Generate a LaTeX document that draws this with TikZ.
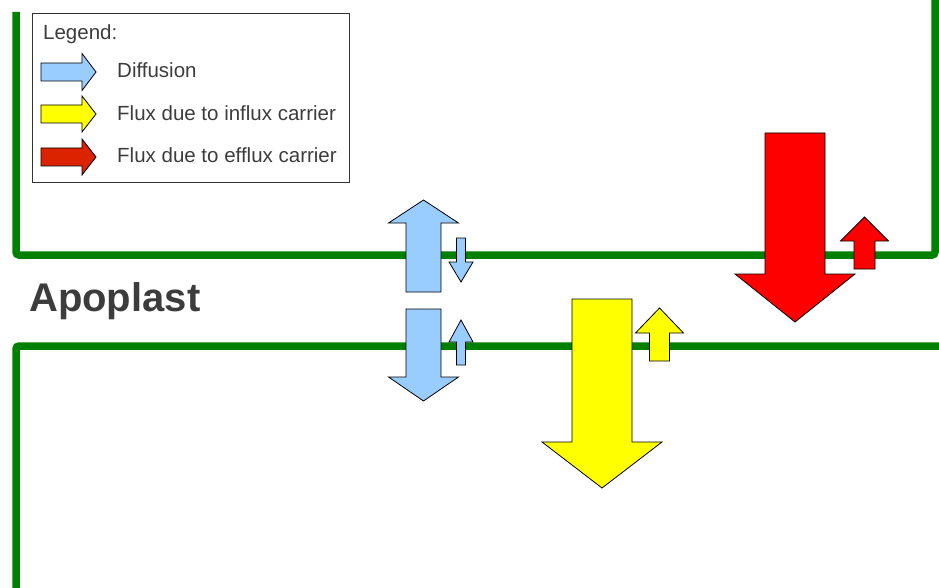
\documentclass[tikz,border=0pt]{standalone}
\usepackage{fontspec}
\setmainfont{Liberation Sans}
\definecolor{cellgreen}{HTML}{008000}
\definecolor{diffblue}{HTML}{99CCFF}
\definecolor{influxyellow}{HTML}{FFFF00}
\definecolor{effluxred}{HTML}{FF0000}
\definecolor{legendred}{HTML}{DC2300}
\definecolor{textgray}{HTML}{3C3C3C}
% vertical block arrow: color, centre x, shaft half width, head half width, tip y, head base y, tail y
\newcommand\vblockarrow[7]{%
  \filldraw[arrowshape,fill=#1] (#2-#3,#7) -- (#2-#3,#6) -- (#2-#4,#6) -- (#2,#5) -- (#2+#4,#6) -- (#2+#3,#6) -- (#2+#3,#7) -- cycle;}
% horizontal block arrow: color, centre y, shaft half, head half, tip x, head base x, tail x
\newcommand\hblockarrow[7]{%
  \filldraw[arrowshape,fill=#1] (#7,#2-#3) -- (#6,#2-#3) -- (#6,#2-#4) -- (#5,#2) -- (#6,#2+#4) -- (#6,#2+#3) -- (#7,#2+#3) -- cycle;}
\begin{document}
\begin{tikzpicture}[x=1pt,y=-1pt,
  cellwall/.style={draw=cellgreen,line width=7.5pt,rounded corners=3pt},
  arrowshape/.style={draw=black,line width=0.8pt,line join=miter},
  legendtext/.style={anchor=base west,inner sep=0pt,text=textgray,font=\fontsize{20.5}{24}\selectfont},
  titletext/.style={anchor=base west,inner sep=0pt,text=textgray,font=\fontsize{40}{46}\selectfont\bfseries}]
\useasboundingbox (0,0) rectangle (939,588);
% cell walls
\draw[cellwall] (16,12) -- (16,255) -- (935,255) -- (935,-10);
\draw[cellwall] (950,346) -- (16,346) -- (16,600);
% legend
\node[draw=black!80,line width=0.8pt,minimum width=317pt,minimum height=169pt,anchor=north west,inner sep=0pt] (legendbox) at (32,13) {};
\node[legendtext] (legendtitle) at (43,40) {Legend:};
\hblockarrow{diffblue}{72}{9}{18.5}{96}{82}{41}
\hblockarrow{influxyellow}{114}{9}{18}{96}{82}{41}
\hblockarrow{legendred}{157}{9}{18}{96}{82}{41}
\node[legendtext] (ldiff) at (117,78) {Diffusion};
\node[legendtext] (linflux) at (117,121) {Flux due to influx carrier};
\node[legendtext] (lefflux) at (117,163) {Flux due to efflux carrier};
% title
\node[titletext] (apoplast) at (29,311) {Apoplast};
% diffusion arrows
\vblockarrow{diffblue}{423.5}{17.5}{35}{200}{223}{292}
\vblockarrow{diffblue}{461}{4.5}{12}{282}{262}{238}
\vblockarrow{diffblue}{423.5}{17.5}{35}{401}{377}{309}
\vblockarrow{diffblue}{461}{4.5}{12}{320}{342}{365}
% influx arrows
\vblockarrow{influxyellow}{602}{30}{60}{488}{442}{299}
\vblockarrow{influxyellow}{659.5}{10}{24}{308}{333}{361}
% efflux arrows
\vblockarrow{effluxred}{795}{30}{60}{322}{274}{133}
\vblockarrow{effluxred}{864.5}{10.5}{24}{217}{241}{269}
\end{tikzpicture}
\end{document}
